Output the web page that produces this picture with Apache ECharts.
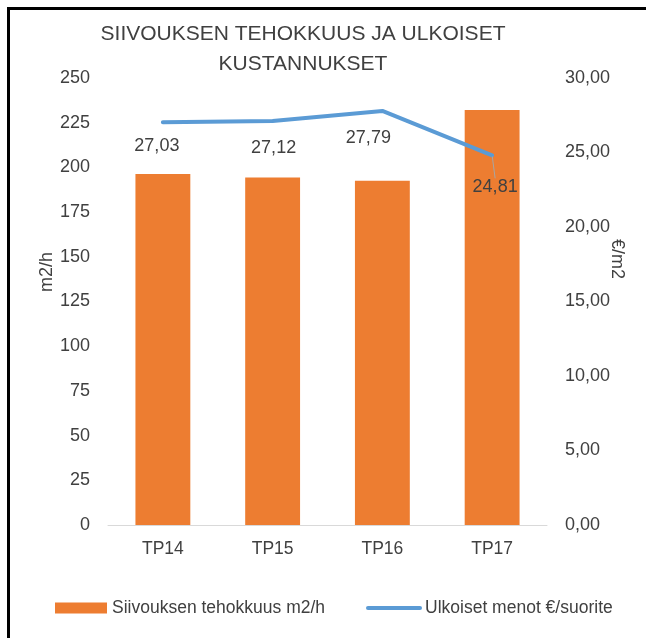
<!DOCTYPE html>
<html>
<head>
<meta charset="utf-8">
<script src="https://cdn.jsdelivr.net/npm/echarts@6/dist/echarts.min.js"></script>
<style>
  html, body { margin: 0; padding: 0; background: #fff; }
  #chart { width: 646px; height: 638px; }
</style>
</head>
<body>
<div id="chart"></div>
<script>
    // data
    var categories = ['TP14', 'TP15', 'TP16', 'TP17'];
    var tehokkuus = [196.3, 194.4, 192.5, 232.1];    // m2/h, left axis
    var ulkoisetMenot = [27.03, 27.12, 27.79, 24.81]; // €/m2, right axis
    var leftTicks = { min: 0, max: 250, step: 25 };
    var rightTicks = { min: 0, max: 30, step: 5 };

    // where Excel had moved the value labels (px from the point)
    var labelShift = [[-6, 24], [1, 27], [-14, 27], [3, 32]];

    var font = '"Liberation Sans", Arial, sans-serif';
    var textColor = '#404040';
    var barName = 'Siivouksen tehokkuus m2/h';
    var lineName = 'Ulkoiset menot €/suorite';

    function comma(v, d) {
        return v.toFixed(d).replace('.', ',');
    }

    var chart = echarts.init(document.getElementById('chart'));

    var lineData = ulkoisetMenot.map(function (v, i) {
        var item = { value: v };
        if (i === 3) {
            item.labelLine = { show: true, lineStyle: { color: '#A6A6A6', width: 1 } };
        }
        return item;
    });

    var legendBase = {
        top: 599,
        itemWidth: 52,
        itemHeight: 11,
        itemGap: 6,
        padding: 0,
        textStyle: { fontFamily: font, fontSize: 17.5, color: textColor }
    };

    var option = {
        animation: false,
        backgroundColor: '#fff',
        textStyle: { fontFamily: font, color: textColor },
        title: {
            text: 'SIIVOUKSEN TEHOKKUUS JA ULKOISET\nKUSTANNUKSET',
            left: 303,
            top: 19,
            padding: 0,
            textAlign: 'center',
            textStyle: {
                fontFamily: font,
                fontSize: 21,
                fontWeight: 'normal',
                color: textColor,
                lineHeight: 30
            }
        },
        grid: { left: 108, right: 99, top: 78, bottom: 113 },
        legend: [
            echarts.util.extend({ left: 55, data: [{ name: barName, icon: 'rect' }] }, legendBase),
            echarts.util.extend({
                left: 366,
                data: [{ name: lineName, itemStyle: { opacity: 0 } }],
                lineStyle: { width: 4, cap: 'round', color: '#5B9BD5' }
            }, legendBase)
        ],
        xAxis: {
            type: 'category',
            data: categories,
            axisLine: { lineStyle: { color: '#D9D9D9', width: 1 } },
            axisTick: { show: false },
            axisLabel: { margin: 15, fontSize: 17.5, color: textColor, fontFamily: font }
        },
        yAxis: [
            {
                type: 'value',
                min: leftTicks.min,
                max: leftTicks.max,
                interval: leftTicks.step,
                splitLine: { show: false },
                axisLine: { show: false },
                axisTick: { show: false },
                axisLabel: { margin: 18, fontSize: 18, color: textColor, fontFamily: font }
            },
            {
                type: 'value',
                min: rightTicks.min,
                max: rightTicks.max,
                interval: rightTicks.step,
                splitLine: { show: false },
                axisLine: { show: false },
                axisTick: { show: false },
                axisLabel: {
                    margin: 18, fontSize: 18, color: textColor, fontFamily: font,
                    formatter: function (v) { return comma(v, 2); }
                }
            }
        ],
        series: [
            {
                name: barName,
                type: 'bar',
                barWidth: '50%',
                itemStyle: { color: '#ED7D31' },
                data: tehokkuus
            },
            {
                name: lineName,
                type: 'line',
                yAxisIndex: 1,
                symbol: 'circle',
                symbolSize: 2,
                itemStyle: { color: '#5B9BD5' },
                lineStyle: { color: '#5B9BD5', width: 4, cap: 'round', join: 'round' },
                label: {
                    show: true,
                    position: 'inside',
                    fontSize: 18,
                    fontFamily: font,
                    color: textColor,
                    formatter: function (p) { return comma(p.value, 2); }
                },
                labelLayout: function (p) {
                    var s = labelShift[p.dataIndex];
                    return { dx: s[0], dy: s[1] };
                },
                data: lineData
            }
        ],
        graphic: [
            {
                type: 'line',
                shape: { x1: 7, y1: 8.5, x2: 646, y2: 8.5 },
                style: { stroke: '#000', lineWidth: 3 },
                silent: true
            },
            {
                type: 'line',
                shape: { x1: 8.5, y1: 7, x2: 8.5, y2: 638 },
                style: { stroke: '#000', lineWidth: 3 },
                silent: true
            },
            {
                type: 'text',
                x: 47, y: 272,
                rotation: Math.PI / 2,
                style: {
                    text: 'm2/h', fontFamily: font, fontSize: 18, fill: textColor,
                    align: 'center', verticalAlign: 'middle'
                }
            },
            {
                type: 'text',
                x: 617, y: 259,
                rotation: -Math.PI / 2,
                style: {
                    text: '€/m2', fontFamily: font, fontSize: 18, fill: textColor,
                    align: 'center', verticalAlign: 'middle'
                }
            }
        ]
    };

    chart.setOption(option);
</script>
</body>
</html>
